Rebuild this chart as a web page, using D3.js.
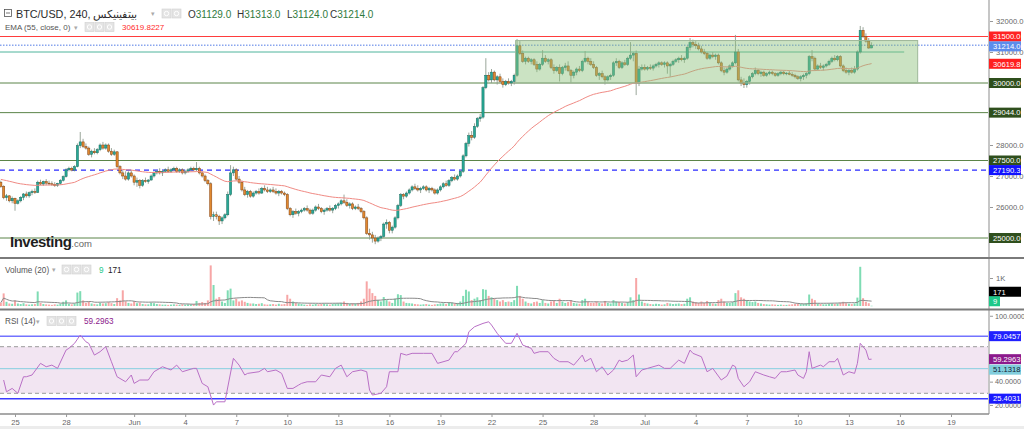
<!DOCTYPE html>
<html><head><meta charset="utf-8">
<script src="https://cdn.jsdelivr.net/npm/d3@7"></script>
<style>html,body{margin:0;padding:0;background:#fff;overflow:hidden}svg{display:block}</style>
</head><body><svg id="c" width="1024" height="429"></svg>
<script>
// ---------------- DATA ----------------
const firstCandle = "2023-05-24T04:00:00Z";
const candleHours = 4;
const ohlc = [
[26800,26850,26620,26660],[26660,26700,26250,26300],[26300,26420,26200,26360],[26360,26380,26150,26200],[26200,26340,26120,26280],
[26280,26300,25880,26120],[26120,26250,26080,26200],[26200,26350,26150,26310],[26310,26450,26220,26420],[26420,26500,26300,26360],[26360,26500,26300,26460],
[26460,26560,26380,26500],[26500,26600,26420,26470],[26470,26850,26450,26800],[26800,26880,26700,26740],[26740,26850,26680,26820],[26820,26900,26700,26770],
[26770,26850,26700,26750],[26750,26830,26680,26720],[26720,26800,26650,26700],[26700,26780,26650,26760],[26760,26900,26720,26860],[26860,27020,26820,26980],
[26980,27250,26950,27200],[27200,27300,27150,27250],[27250,27300,27150,27190],[27190,27350,27150,27300],[27300,28050,27280,27980],[27980,28420,27900,28100],
[28100,28200,27900,27950],[27950,28050,27850,27900],[27900,27950,27650,27700],[27700,27850,27600,27800],[27800,27900,27700,27750],[27750,27900,27700,27850],
[27850,28050,27800,28000],[28000,28100,27850,27900],[27900,28050,27850,28000],[28000,28050,27750,27800],[27800,27900,27650,27700],[27700,27850,27650,27780],
[27780,27800,27250,27300],[27300,27350,27050,27100],[27100,27200,26900,27000],[27000,27150,26850,26900],[26900,27150,26850,27100],[27100,27200,26950,27000],
[27000,27050,26700,26800],[26800,26950,26650,26850],[26850,26900,26600,26700],[26700,26900,26650,26850],[26850,26950,26780,26820],[26820,26900,26750,26870],
[26870,27050,26850,27000],[27000,27150,26950,27100],[27100,27200,27050,27150],[27150,27250,27050,27100],[27100,27200,27000,27150],[27150,27250,27100,27200],
[27200,27300,27100,27150],[27150,27250,27100,27200],[27200,27300,27150,27250],[27250,27300,27100,27150],[27150,27250,27100,27200],[27200,27250,27050,27100],
[27100,27200,27050,27150],[27150,27250,27100,27200],[27200,27300,27150,27250],[27250,27300,27150,27200],[27200,27450,27150,27250],[27250,27300,27050,27100],
[27100,27150,26950,27000],[27000,27050,26800,26850],[26850,26900,26700,26750],[26750,26800,25600,25700],[25700,25850,25550,25750],[25750,25850,25600,25700],
[25700,25750,25420,25550],[25550,25700,25450,25650],[25650,25800,25600,25750],[25750,26500,25700,26400],[26400,27350,26350,27100],[27100,27300,27000,27200],
[27200,27250,26850,26900],[26900,27000,26750,26800],[26800,26850,26500,26550],[26550,26650,26350,26400],[26400,26550,26300,26500],[26500,26550,26300,26350],
[26350,26500,26300,26450],[26450,26550,26400,26500],[26500,26600,26400,26450],[26450,26650,26420,26600],[26600,26700,26500,26550],[26550,26650,26450,26500],
[26500,26600,26450,26550],[26550,26650,26450,26500],[26500,26600,26400,26450],[26450,26550,26350,26500],[26500,26550,26400,26450],[26450,26500,26350,26400],
[26400,26450,25900,25950],[25950,26000,25700,25750],[25750,25900,25650,25850],[25850,25950,25750,25800],[25800,25900,25700,25850],[25850,25950,25800,25900],
[25900,26000,25850,25950],[25950,26050,25850,25900],[25900,25950,25750,25800],[25800,25950,25750,25900],[25900,26050,25850,26000],[26000,26100,25900,25950],
[25950,26000,25800,25850],[25850,25950,25750,25900],[25900,26000,25850,25950],[25950,26050,25850,25900],[25900,26000,25800,25950],[25950,26100,25900,26050],
[26050,26150,25950,26100],[26100,26250,26050,26200],[26200,26400,26100,26150],[26150,26250,26000,26050],[26050,26150,25950,26100],[26100,26150,25900,25950],
[25950,26050,25900,26000],[26000,26100,25900,25950],[25950,26000,25800,25850],[25850,25900,25600,25650],[25650,25700,25100,25150],[25150,25300,24950,25100],
[25100,25200,24850,25000],[25000,25100,24800,24900],[24900,25050,24850,25000],[25000,25100,24900,25050],[25050,25500,25000,25450],[25450,25600,25300,25500],
[25500,25550,25150,25250],[25250,25400,25150,25350],[25350,25700,25300,25650],[25650,26100,25600,26050],[26050,26450,26000,26400],[26400,26450,26250,26350],
[26350,26500,26300,26450],[26450,26600,26400,26550],[26550,26700,26500,26650],[26650,26750,26550,26600],[26600,26700,26500,26550],[26550,26650,26450,26600],
[26600,26700,26550,26650],[26650,26700,26500,26550],[26550,26650,26450,26600],[26600,26650,26500,26550],[26550,26600,26400,26450],[26450,26600,26400,26550],
[26550,26700,26500,26650],[26650,26800,26600,26750],[26750,26850,26650,26700],[26700,26900,26650,26850],[26850,27000,26800,26950],[26950,27050,26850,26900],
[26900,27050,26850,27000],[27000,27200,26950,27150],[27150,27700,27100,27650],[27650,28100,27600,28050],[28050,28400,27950,28300],[28300,28450,28150,28250],
[28250,28700,28200,28600],[28600,28900,28550,28850],[28850,29000,28750,28900],[28900,29900,28850,29850],[29850,30800,29800,30250],[30250,30350,30050,30100],
[30100,30450,30000,30350],[30350,30400,30050,30100],[30100,30250,29950,30200],[30200,30300,30000,30050],[30050,30150,29850,29950],[29950,30100,29900,30050],
[30050,30150,29950,30000],[30000,30100,29900,30050],[30050,30300,29950,30250],[30250,31420,30200,31200],[31200,31350,30900,30950],[30950,31050,30650,30700],
[30700,30850,30600,30800],[30800,30850,30650,30700],[30700,30800,30600,30750],[30750,30800,30550,30600],[30600,30700,30350,30450],[30450,30650,30400,30600],
[30600,31060,30550,30800],[30800,30900,30650,30700],[30700,30800,30600,30750],[30750,30800,30450,30500],[30500,30600,30300,30400],[30400,30550,30350,30500],
[30500,30600,30050,30300],[30300,30550,30250,30500],[30500,30650,30400,30550],[30550,30700,30350,30400],[30400,30450,30000,30250],[30250,30400,30150,30350],
[30350,30500,30250,30450],[30450,30550,30350,30400],[30400,30750,30350,30700],[30700,31030,30650,30800],[30800,30850,30600,30700],[30700,30800,30550,30600],
[30600,30700,30450,30500],[30500,30550,30200,30250],[30250,30350,30100,30300],[30300,30400,30150,30200],[30200,30250,29950,30100],[30100,30250,30050,30200],
[30200,30300,30100,30250],[30250,30700,30200,30650],[30650,30800,30550,30700],[30700,30750,30450,30500],[30500,30700,30450,30650],[30650,30750,30550,30600],
[30600,30850,30550,30800],[30800,31320,30750,30900],[30900,31000,30700,30950],[30950,31050,29610,30000],[30000,30550,29900,30450],[30450,30600,30400,30500],
[30500,30600,30400,30450],[30450,30550,30400,30500],[30500,30600,30420,30480],[30480,30600,30400,30550],[30550,30650,30500,30600],[30600,30700,30500,30650],
[30650,30700,30550,30600],[30600,30700,30500,30650],[30650,30700,30300,30550],[30550,30650,30200,30600],[30600,30750,30550,30700],[30700,30800,30650,30750],
[30750,30850,30650,30800],[30800,30900,30700,30750],[30750,30850,30650,30800],[30800,31200,30750,31150],[31150,31450,31050,31300],[31300,31400,31150,31250],
[31250,31350,31100,31200],[31200,31300,31050,31100],[31100,31200,30950,31000],[31000,31100,30900,30950],[30950,31000,30750,30800],[30800,30950,30750,30900],
[30900,31000,30800,30850],[30850,30950,30750,30900],[30900,30950,30600,30650],[30650,30700,30350,30400],[30400,30500,30250,30350],[30350,30500,30300,30450],
[30450,30600,30400,30550],[30550,30700,30500,30650],[30650,31550,30600,31000],[31000,31100,30050,30100],[30100,30200,29900,30000],[30000,30150,29840,29950],
[29950,30100,29850,30050],[30050,30250,29950,30200],[30200,30350,30150,30300],[30300,30500,30250,30400],[30400,30450,30250,30300],[30300,30400,30200,30350],
[30350,30400,30200,30250],[30250,30350,30200,30300],[30300,30400,30250,30350],[30350,30400,30250,30300],[30300,30350,30200,30250],[30250,30350,30200,30300],
[30300,30400,30250,30350],[30350,30400,30250,30300],[30300,30350,30250,30320],[30320,30400,30250,30280],[30280,30350,30200,30250],[30250,30300,30150,30200],
[30200,30250,30100,30150],[30150,30250,30050,30200],[30200,30300,30100,30250],[30250,30350,30150,30300],[30300,30900,30250,30850],[30850,31060,30700,30800],
[30800,30850,30400,30450],[30450,30600,30400,30550],[30550,30650,30450,30500],[30500,30600,30400,30550],[30550,30650,30500,30600],[30600,30750,30550,30700],
[30700,30850,30650,30800],[30800,30900,30700,30750],[30750,30900,30700,30850],[30850,30900,30500,30550],[30550,30600,30350,30400],[30400,30500,30300,30350],
[30350,30450,30250,30400],[30400,30500,30300,30350],[30350,30550,30300,30450],[30450,31050,30400,31000],[31000,31840,30950,31700],[31700,31800,31450,31500],
[31500,31600,31300,31350],[31350,31450,31100,31129],[31129,31313,31124,31214]
];
const volumes = [
120,450,150,90,80,
200,90,70,100,60,50, 60,70,520,110,70,60, 50,40,60,50,80,150, 200,80,60,90,480,530,
200,110,150,90,70,60, 110,90,100,140,100,70, 280,200,560,170,110,90, 170,100,120,70,60,60,
120,100,70,60,50,50, 40,50,60,50,40,60, 50,60,60,70,180,110, 140,110,200,1450,750,260,
320,160,110,560,620,200, 260,160,200,150,110,90, 90,70,80,100,60,50, 60,70,50,80,60,70,
400,260,160,110,90,70, 50,40,60,50,70,60, 70,80,60,50,70,90, 100,110,160,110,80,100,
90,110,160,260,880,620, 460,360,210,160,320,210, 160,110,260,420,390,160, 110,100,90,70,60,50,
60,70,50,40,60,70, 90,100,70,110,120,90, 110,160,360,580,520,210, 260,310,210,600,580,360,
310,260,210,160,210,140, 160,140,210,720,360,260, 160,110,90,140,160,110, 210,110,90,160,180,110,
260,160,110,140,210,110, 90,80,210,260,140,110, 110,160,110,90,180,110, 90,210,160,140,110,90,
140,310,210,1000,410,160, 110,90,70,60,80,70, 50,60,110,90,70,80, 90,70,80,260,310,160,
140,110,160,110,180,110, 90,80,210,260,160,110, 110,140,460,560,310,260, 210,160,140,160,110,90,
70,60,50,60,50,40, 50,40,40,50,60,70, 90,70,80,100,410,260, 210,90,70,60,60,80,
90,80,90,120,150,100, 80,70,90,300,1400,280, 150,100,9
];
const emaSeed = 26900;
const rsiIndex = [1,2,4,6,8,9,11,14,16,18,20,23,24,26,28,30,31,33,35,37,39,41,44,46,47,49,52,54,57,60,62,64,66,68,69,71,73,75,76,79,82,84,86,87,91,93,94,97,99,101,103,105,106,108,111,113,116,118,120,122,124,127,129,130,131,134,136,137,140,141,143,145,149,152,154,158,160,161,164,165,167,170,172,173,175,176,178,180,182,184,187,188,190,193,195,197,200,202,205,206,208,210,212,214,216,218,219,221,223,224,226,228,232,234,236,239,241,243,244,247,249,251,254,256,258,259,260,262,264,266,269,271,273,275,277,280,281,283,284,285,286,289,290,292,294,295,297,299,301,302,303,305,306,307];
const rsiValues = [41.4,31.3,34.2,30.0,44.2,44.2,45.7,55.7,52.8,54.2,51.4,67.1,68.6,72.9,80.0,74.2,72.9,62.8,65.7,70.0,57.1,44.2,39.9,45.7,38.5,41.4,41.4,48.5,52.8,50.0,54.2,48.5,50.0,51.4,51.4,38.5,35.6,19.9,22.7,22.7,60.0,54.2,45.7,47.1,48.5,51.4,48.5,50.0,47.1,34.2,34.2,37.1,38.5,39.9,39.9,45.7,44.2,51.4,54.2,44.2,48.5,50.0,48.5,32.8,28.5,30.0,35.6,48.5,48.5,64.3,62.8,64.3,64.3,64.3,55.7,58.5,65.7,65.7,72.9,82.8,87.1,90.0,91.4,88.6,81.5,78.5,72.9,72.9,81.5,71.4,68.6,64.3,65.7,65.7,60.0,57.1,57.1,54.2,62.8,57.1,60.0,48.5,52.8,45.7,50.0,58.5,57.1,58.5,62.8,44.2,50.0,51.4,54.2,51.4,51.4,58.5,55.7,67.1,64.3,61.4,48.5,51.4,41.4,44.8,54.2,52.8,42.8,35.6,39.9,48.5,45.7,44.2,42.8,48.5,48.5,50.0,45.7,42.8,48.5,65.7,51.4,54.2,52.8,57.1,57.1,60.0,45.7,48.5,47.1,55.7,72.9,67.1,59.1,59.3];

const xDomain = ["2023-05-25T00:00:00Z","2023-07-19T00:00:00Z"];
const xTickDates = ["2023-05-25","2023-05-28","2023-06-01","2023-06-04","2023-06-07","2023-06-10","2023-06-13","2023-06-16","2023-06-19","2023-06-22","2023-06-25","2023-06-28","2023-07-01","2023-07-04","2023-07-07","2023-07-10","2023-07-13","2023-07-16","2023-07-19"];
const xTickLabels = ["25","28","Jun","4","7","10","13","16","19","22","25","28","Jul","4","7","10","13","16","19"];
const priceTicks = [26000,27000,28000,31000,32000];
const rsiTicks = [20,40,100];
const volumeTicks = [1000];
const greenLevels = [30000,29044,27500,25000];
const resistanceLevel = 31500;
const dashedLevel = 27190.3;
const lastPrice = 31214;
const emaLast = 30619.8;
const midLevel = 31000;
const midLevelEnd = "2023-07-16T06:00:00Z";
const rangeBox = {start:"2023-06-23T10:00:00Z", end:"2023-07-17T01:00:00Z", low:30000, high:31370};
const rsiLevels = {upper:79.0457, lower:25.4031, mid:51.1318, bandTop:70, bandBottom:30};
const headerSymbol = "BTC/USD, 240, بيتفينيكس";
const headerOHLC = [["O","31129.0"],["H","31313.0"],["L","31124.0"],["C","31214.0"]];
const emaTitle = "EMA (55, close, 0)";
const emaValueText = "30619.8227";
const volTitle = "Volume (20)";
const volLastText = "9";
const volMAText = "171";
const rsiTitle = "RSI (14)";
const rsiLastText = "59.2963";

// ---------------- DRAW ----------------
const FONT = '"Liberation Sans", Arial, sans-serif';
const svg = d3.select("#c").style("font-family", FONT);
svg.append("rect").attr("width",1024).attr("height",429).attr("fill","#fff");
const AX = 989;
const x = d3.scaleUtc().domain(xDomain.map(d=>new Date(d))).range([15,951]);
const y = d3.scaleLinear().domain([25000,32000]).range([238,21]);
const yv = d3.scaleLinear().domain([0,1000]).range([306,278]);
const yr = d3.scaleLinear().domain([30,70]).range([393.3,346.7]);

const t0 = Date.parse(firstCandle);
const candles = ohlc.map((d,i)=>({i, t:new Date(t0+i*candleHours*3600e3), o:d[0],h:d[1],l:d[2],c:d[3], v:volumes[i]}));

const defs = svg.append("defs");
defs.append("clipPath").attr("id","cm").append("rect").attr("x",0).attr("y",0).attr("width",AX).attr("height",257);
defs.append("clipPath").attr("id","cv").append("rect").attr("x",0).attr("y",259).attr("width",AX).attr("height",49);
defs.append("clipPath").attr("id","cr").append("rect").attr("x",0).attr("y",310).attr("width",AX).attr("height",103);

const hline = (g, yy, x0, x1, color, w, dash) => g.append("line").attr("x1",x0).attr("x2",x1).attr("y1",yy).attr("y2",yy)
  .attr("stroke",color).attr("stroke-width",w).attr("stroke-dasharray",dash||null);

// ---- main panel
const gm = svg.append("g").attr("clip-path","url(#cm)");
hline(gm, y(resistanceLevel), 0, AX, "#ff3d3d", 1);
hline(gm, y(midLevel), 0, x(new Date(midLevelEnd)), "#4fb49c", 1);
greenLevels.forEach(v=>hline(gm, y(v), 0, AX, "#5b8448", 1));
hline(gm, y(dashedLevel), 0, AX, "#2b2bff", 1.2, "5,4");
hline(gm, y(lastPrice), 0, AX, "#8aa6ee", 1.5, "1.5,1.5");

const bw = 2.2;
const cg = gm.append("g");
cg.selectAll("line.w").data(candles).join("line").attr("class","w")
  .attr("x1",d=>x(d.t)).attr("x2",d=>x(d.t)).attr("y1",d=>y(d.h)).attr("y2",d=>y(d.l))
  .attr("stroke","#8e9c8e").attr("stroke-width",0.9);
cg.selectAll("rect.b").data(candles).join("rect").attr("class","b")
  .attr("x",d=>x(d.t)-bw/2).attr("width",bw)
  .attr("y",d=>y(Math.max(d.o,d.c))).attr("height",d=>Math.max(0.8, Math.abs(y(d.o)-y(d.c))))
  .attr("fill",d=>d.c>=d.o?"#27a895":"#e0892f")
  .attr("stroke",d=>d.c>=d.o?"#1a6e62":"#864313").attr("stroke-width",0.5);

// EMA(55) of close
const a = 2/(55+1);
let e = emaSeed;
const ema = candles.map(d=>{ e = e + a*(d.c - e); return {t:d.t, v:e}; });
gm.append("path").datum(ema).attr("fill","none").attr("stroke","#f08a84").attr("stroke-width",1)
  .attr("d", d3.line().x(d=>x(d.t)).y(d=>y(d.v)));

// range box
gm.append("rect").attr("x",x(new Date(rangeBox.start))).attr("width",x(new Date(rangeBox.end))-x(new Date(rangeBox.start)))
  .attr("y",y(rangeBox.high)).attr("height",y(rangeBox.low)-y(rangeBox.high))
  .attr("fill","#8cc279").attr("fill-opacity",0.45).attr("stroke","#9fb89a").attr("stroke-width",1);

// Investing logo
svg.append("text").attr("x",10).attr("y",246.5).attr("font-size",15).attr("font-weight","bold").attr("fill","#1e1e1e")
  .attr("letter-spacing",-0.5).text("Investing")
  .append("tspan").attr("font-weight","normal").attr("font-size",9.5).attr("fill","#666").attr("letter-spacing",0).text(".com");

// ---- volume panel
const gv = svg.append("g").attr("clip-path","url(#cv)");
gv.selectAll("rect").data(candles).join("rect")
  .attr("x",d=>x(d.t)-1).attr("width",2)
  .attr("y",d=>yv(d.v)).attr("height",d=>Math.max(0.5, yv(0)-yv(d.v)))
  .attr("fill",d=>d.c>=d.o?"#7fdcb4":"#f7a6a6");
const vma = candles.map((d,i)=>({t:d.t, v:d3.mean(volumes.slice(Math.max(0,i-19), i+1))}));
gv.append("path").datum(vma).attr("fill","none").attr("stroke","#8a8a8a").attr("stroke-width",1)
  .attr("d", d3.line().x(d=>x(d.t)).y(d=>yv(d.v)));

// ---- RSI panel
const gr = svg.append("g").attr("clip-path","url(#cr)");
gr.append("rect").attr("x",0).attr("width",AX).attr("y",yr(rsiLevels.bandTop)).attr("height",yr(rsiLevels.bandBottom)-yr(rsiLevels.bandTop)).attr("fill","#f2e5f2");
hline(gr, yr(rsiLevels.bandTop), 0, AX, "#9a9a9a", 1, "4,3");
hline(gr, yr(rsiLevels.bandBottom), 0, AX, "#9a9a9a", 1, "4,3");
hline(gr, yr(rsiLevels.mid), 0, AX, "#86cfe0", 1);
hline(gr, yr(rsiLevels.upper), 0, AX, "#7373ff", 1.5);
hline(gr, yr(rsiLevels.lower), 0, AX, "#3a3aff", 1.5);
const rsiPts = rsiIndex.map((k,j)=>({t:candles[k].t, v:rsiValues[j]}));
gr.append("path").datum(rsiPts).attr("fill","none").attr("stroke","#b970c6").attr("stroke-width",1)
  .attr("d", d3.line().x(d=>x(d.t)).y(d=>yr(d.v)));

// ---- separators and axes frame
svg.append("line").attr("x1",AX).attr("x2",AX).attr("y1",0).attr("y2",414).attr("stroke","#c6c6c6").attr("stroke-width",2);
hline(svg, 258, 0, 1024, "#7a7a7a", 2);
hline(svg, 309.5, 0, 1024, "#7a7a7a", 2);

function styleAxis(g){
  g.select(".domain").remove();
  g.selectAll(".tick line").attr("stroke","#999");
  g.selectAll(".tick text").attr("fill","#666").attr("font-size",7.6).attr("font-family",FONT);
}
svg.append("g").attr("transform",`translate(${AX+1},0)`)
  .call(d3.axisRight(y).tickValues(priceTicks).tickSize(3).tickPadding(3).tickFormat(d3.format(".1f"))).call(styleAxis);
svg.append("g").attr("transform",`translate(${AX+1},0)`)
  .call(d3.axisRight(yv).tickValues(volumeTicks).tickSize(3).tickPadding(3).tickFormat(d=>d3.format("~s")(d).replace("k","K"))).call(styleAxis);
const gra = svg.append("g").attr("transform",`translate(${AX+1},0)`)
  .call(d3.axisRight(yr).tickValues(rsiTicks).tickSize(3).tickPadding(2).tickFormat(d3.format(".4f"))).call(styleAxis);
gra.selectAll(".tick text").attr("font-size",7.2);
gra.selectAll(".tick").filter(d=>d===100).attr("transform",`translate(0,${yr(100)+4.5})`);

// x axis
hline(svg, 414, 0, AX, "#8c8c8c", 1.5);
const gx = svg.append("g").attr("transform","translate(0,414)")
  .call(d3.axisBottom(x).tickValues(xTickDates.map(d=>new Date(d+"T00:00:00Z"))).tickSize(3).tickPadding(3).tickFormat((d,i)=>xTickLabels[i]));
styleAxis(gx);
svg.append("rect").attr("x",0).attr("y",426).attr("width",1024).attr("height",3).attr("fill","#ececec");

// value tags on right axis
function tag(yy, text, bg, fg, w){
  const g = svg.append("g");
  g.append("rect").attr("x",AX).attr("y",yy-5).attr("width",w||32).attr("height",10).attr("fill",bg);
  g.append("text").attr("x",AX+4).attr("y",yy+2.8).attr("font-size",7.6).attr("fill",fg||"#fff").text(text);
}
tag(y(resistanceLevel), "31500.0", "#ff2222");
tag(y(lastPrice)+1, "31214.0", "#5c8cec");
tag(y(emaLast), "30619.8", "#ff1f1f");
greenLevels.forEach(v=>tag(y(v), d3.format(".1f")(v), "#2f4f1d"));
tag(y(dashedLevel), "27190.3", "#1212ff");
tag(yv(9)-14, volMAText, "#000");
tag(yv(9)-4.5, volLastText, "#1ec98a", "#fff", 11);
tag(yr(rsiLevels.upper), "79.0457", "#2121ff");
tag(yr(59.2963), rsiLastText, "#8c1a8c");
tag(yr(rsiLevels.mid)+1, "51.1318", "#82cedd", "#123");
tag(yr(rsiLevels.lower), "25.4031", "#1a1aff");

// ---- headers
function icons(x0, yTop, n){
  for(let k=0;k<n;k++){
    svg.append("rect").attr("x",x0+k*10).attr("y",yTop).attr("width",9).attr("height",9).attr("fill","#e4e4e4").attr("stroke","#d0d0d0").attr("stroke-width",0.6);
    svg.append("circle").attr("cx",x0+k*10+4.5).attr("cy",yTop+4.5).attr("r",2.2).attr("fill","none").attr("stroke","#fff").attr("stroke-width",1);
  }
}
svg.append("rect").attr("x",4.5).attr("y",9.5).attr("width",7).attr("height",7).attr("fill","none").attr("stroke","#555").attr("stroke-width",0.8);
hline(svg, 13, 6, 10, "#555", 0.8);
svg.append("text").attr("x",16).attr("y",17.5).attr("font-size",10.8).attr("fill","#2b2b2b").text(headerSymbol);
svg.append("text").attr("x",151).attr("y",16).attr("font-size",7).attr("fill","#aaa").text("▾");
icons(162, 9, 2);
const hx = [188, 237, 287, 330];
headerOHLC.forEach((p,k)=>{
  const t = svg.append("text").attr("x",hx[k]).attr("y",17.5).attr("font-size",10).attr("fill","#333").text(p[0]);
  t.append("tspan").attr("fill","#2f7a3d").text(p[1]);
});
svg.append("text").attr("x",5).attr("y",30).attr("font-size",8).attr("fill","#555").text(emaTitle);
svg.append("text").attr("x",74).attr("y",29.5).attr("font-size",6.5).attr("fill","#aaa").text("▾");
icons(85, 22.5, 3);
svg.append("text").attr("x",122).attr("y",30).attr("font-size",8).attr("fill","#ff2b2b").text(emaValueText);
svg.append("text").attr("x",5).attr("y",272.5).attr("font-size",8.2).attr("fill","#555").text(volTitle);
svg.append("text").attr("x",52).attr("y",272).attr("font-size",6.5).attr("fill","#aaa").text("▾");
icons(62, 265, 3);
svg.append("text").attr("x",99).attr("y",272.5).attr("font-size",8.2).attr("fill","#1ec98a").text(volLastText);
svg.append("text").attr("x",108).attr("y",272.5).attr("font-size",8.2).attr("fill","#222").text(volMAText);
svg.append("text").attr("x",5).attr("y",324).attr("font-size",8.2).attr("fill","#555").text(rsiTitle);
svg.append("text").attr("x",36).attr("y",323.5).attr("font-size",6.5).attr("fill","#aaa").text("▾");
icons(47, 316.5, 3);
svg.append("text").attr("x",84).attr("y",324).attr("font-size",8.2).attr("fill","#8c1a8c").text(rsiLastText);
</script>
</body></html>
